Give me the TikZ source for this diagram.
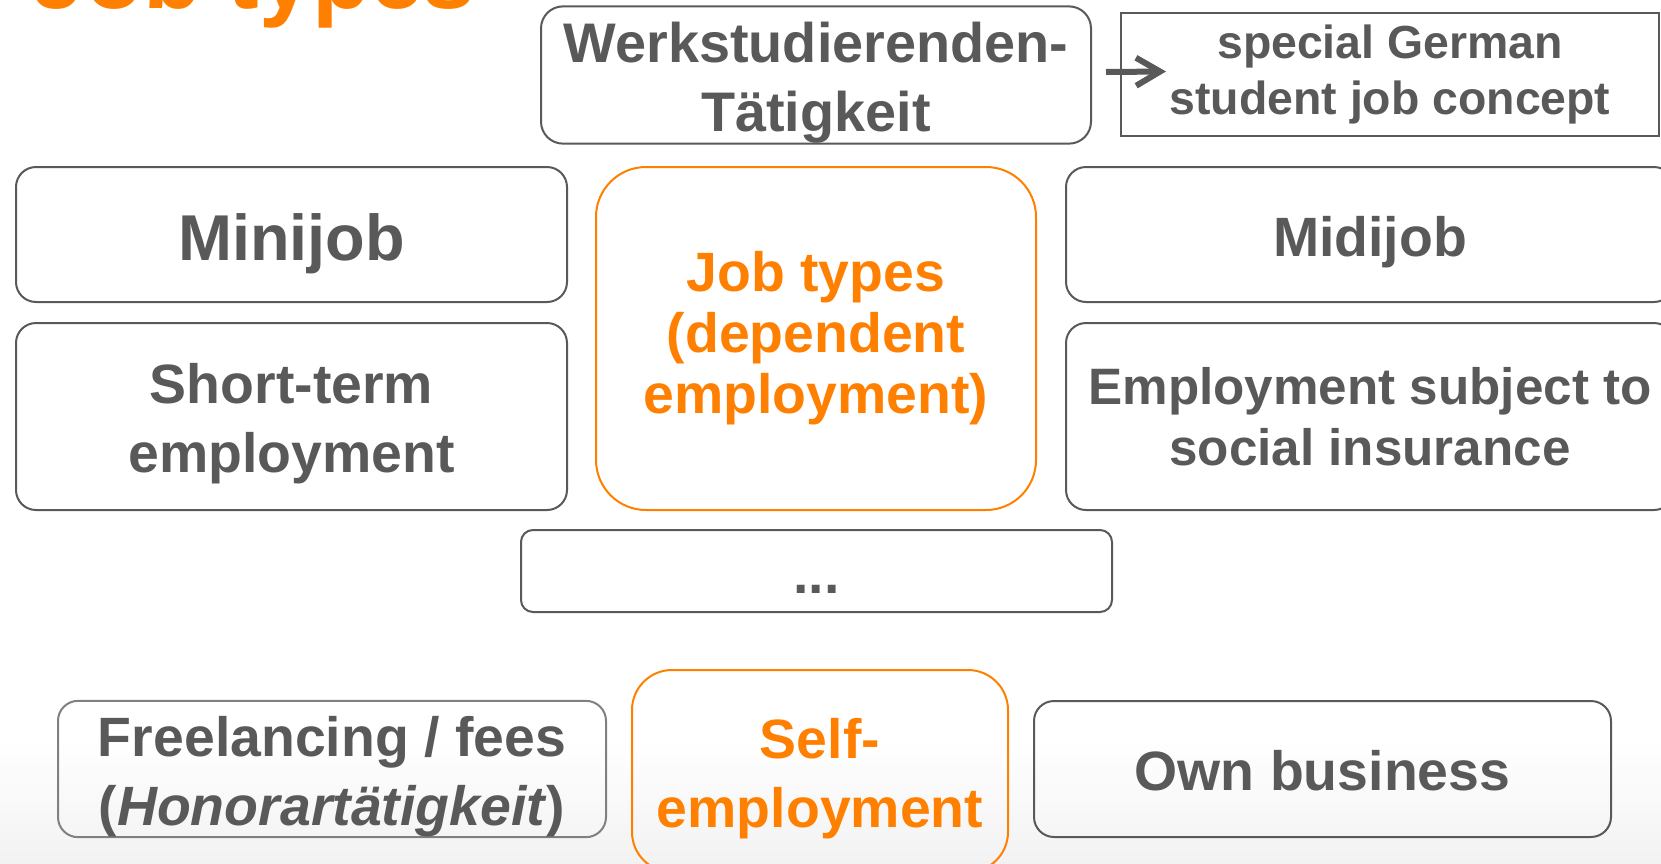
\documentclass[tikz,border=0pt]{standalone}
\usepackage{fontspec}
\setmainfont{Liberation Sans}
\usepackage{xcolor}
\usetikzlibrary{arrows.meta, positioning}

\definecolor{jobgray}{HTML}{595959}
\definecolor{jobline}{HTML}{808080}
\definecolor{joborange}{HTML}{FF8000}
% Zeilenhoehe wie im Folienlayout
\newcommand{\jstr}{\rule[-0.212em]{0pt}{1.212em}}

\begin{document}
\begin{tikzpicture}[x=0.5pt, y=-0.5pt,
  jobbox/.style={draw=jobgray, line width=1pt, rounded corners=10pt, text=jobgray,
    align=center, inner ysep=0pt, font=\bfseries\fontsize{27.7}{33}\selectfont},
  keybox/.style={jobbox, draw=joborange, text=joborange}]
  \useasboundingbox (0,0) rectangle (1661,863);

  % leichter Verlauf unten
  \shade[top color=white, bottom color=black!5] (0,740) rectangle (1661,863);

  % Titel, oben abgeschnitten
  \node[anchor=base west, inner sep=0pt, text=joborange,
    font=\bfseries\fontsize{47.5}{50}\selectfont] (title) at (32,8) {Job types};

  % obere Reihe
  \node[jobbox, rounded corners=11pt, minimum width=275pt, minimum height=67pt,
    font=\bfseries\fontsize{27.9}{32.5}\selectfont] (werk) at (816,75)
    {\jstr Werkstudierenden-\\\jstr Tätigkeit};
  \node[draw=jobgray, line width=1pt, text=jobgray, align=center,
    minimum width=269pt, minimum height=61.5pt,
    font=\bfseries\fontsize{23.2}{28}\selectfont] (concept) at (1390,74.5)
    {special German\\student job concept};
  \draw[jobgray, line width=3pt, -{Straight Barb[length=12pt, width=14pt]}]
    ([xshift=7pt, yshift=1.5pt]werk.east) -- ([xshift=23pt, yshift=1.5pt]concept.west);

  % abhaengige Beschaeftigung
  \node[jobbox, minimum width=275.5pt, minimum height=67.5pt,
    font=\bfseries\fontsize{32.4}{36}\selectfont] (minijob) at (291.5,234.5) {\jstr Minijob};
  \node[keybox, rounded corners=25pt, minimum width=220pt, minimum height=171.5pt,
    font=\bfseries\fontsize{27.7}{30.5}\selectfont] (jobtypes) at (816,338.5)
    {Job types\\(dependent\\employment)};
  \node[jobbox, minimum width=304pt, minimum height=67.5pt] (midijob) at (1370,234.5)
    {\jstr Midijob};
  \node[jobbox, minimum width=275.5pt, minimum height=93.5pt] (shortterm) at (291.5,416.5)
    {\jstr Short-term\\\jstr employment};
  \node[jobbox, minimum width=304pt, minimum height=93.5pt,
    font=\bfseries\fontsize{25.6}{30.5}\selectfont] (socialins) at (1370,416.5)
    {Employment subject to\\social insurance};
  \node[jobbox, rounded corners=6pt, minimum width=295.5pt, minimum height=41pt,
    text height=22pt, text depth=0pt] (etc) at (816.5,571) {...};

  % Selbststaendigkeit
  \node[jobbox, draw=jobline, minimum width=274pt, minimum height=68pt] (freelance) at (332,769)
    {\jstr Freelancing / fees\\\jstr(\textit{Honorartätigkeit})};
  \node[keybox, rounded corners=20pt, minimum width=188pt, minimum height=101pt]
    (selfemp) at (820,771) {\jstr Self-\\\jstr employment};
  \node[jobbox, minimum width=288.5pt, minimum height=68pt] (ownbiz) at (1322.5,769)
    {\jstr Own business};
\end{tikzpicture}
\end{document}
